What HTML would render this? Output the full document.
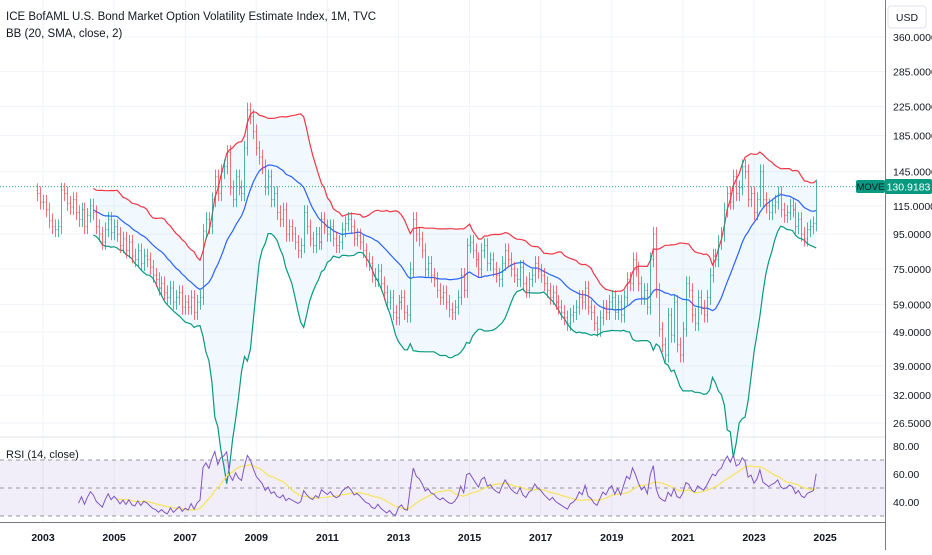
<!DOCTYPE html>
<html><head><meta charset="utf-8">
<style>
body{margin:0;background:#fff;font-family:"Liberation Sans",sans-serif;}
svg text{font-family:"Liberation Sans",sans-serif;}
</style></head>
<body>
<svg id="c" width="932" height="550" viewBox="0 0 932 550">
<rect width="932" height="550" fill="#fff"/>
<g id="grid"></g><g id="bands"></g><g id="bars"></g><g id="rsi"></g><g id="axes"></g>
</svg>
<script>
// Monthly closes, Nov 2002 .. Oct 2024
const startYear = 2002, startMonth = 10;
const closes = [
125,118,
118,112,104,100,98,100,128,125,117,114,120,110,
105,112,100,108,115,110,100,95,90,98,105,96,
100,95,88,92,85,90,82,80,85,78,82,80,
76,72,70,66,68,64,62,66,60,62,64,58,
60,58,62,56,60,62,97,105,100,120,140,125,
145,150,165,130,120,140,130,125,170,220,210,190,
170,160,150,130,140,120,125,110,105,112,95,100,
95,90,85,88,110,100,92,88,95,90,105,100,
95,100,92,88,90,98,102,105,100,92,94,90,
85,80,78,72,70,74,68,64,60,62,56,54,
60,62,56,55,75,105,95,92,85,75,78,72,
70,65,62,64,60,57,56,58,62,72,65,88,
90,85,80,75,85,88,78,80,75,72,70,78,
85,80,75,72,70,76,68,65,70,72,78,74,
72,68,65,62,64,60,58,56,54,52,55,56,
58,62,60,66,58,56,52,50,54,58,56,60,
62,56,60,55,62,70,68,80,75,68,62,65,
58,80,95,65,50,45,42,55,48,60,45,42,
50,68,65,55,52,62,58,55,62,72,82,80,
90,95,112,125,118,140,125,130,150,145,120,125,
110,120,145,120,115,110,115,118,125,112,108,110,
115,112,100,105,95,92,98,100,102,130.9183
];
const priceTicks = [360,285,225,185,145,115,95,75,59,49,39,32,26.5];
const rsiTicks = [80,60,40];
const yearTicks = [2003,2005,2007,2009,2011,2013,2015,2017,2019,2021,2023,2025];

const NS="http://www.w3.org/2000/svg";
function el(tag,attrs,parent){const e=document.createElementNS(NS,tag);for(const k in attrs)e.setAttribute(k,attrs[k]);parent.appendChild(e);return e;}
const xOfYear = y => 43 + (y-2003)*35.55;
const xOfIdx = i => xOfYear(startYear + (startMonth + i)/12);
const yP = v => 37 + (Math.log(360) - Math.log(v))*148;
const yR = v => 488 - (v-50)*1.4;
const PR = 885;

const grid=document.getElementById('grid'), axes=document.getElementById('axes');
priceTicks.forEach(t=>{el('line',{x1:0,x2:PR,y1:yP(t),y2:yP(t),stroke:'#f0f3fa'},grid);});
yearTicks.forEach(t=>{el('line',{x1:xOfYear(t),x2:xOfYear(t),y1:0,y2:522,stroke:'#f0f3fa'},grid);});
const rs=document.getElementById('rsi');
el('line',{x1:0,x2:PR,y1:437,y2:437,stroke:'#e0e3eb'},grid);
el('rect',{x:0,y:yR(70),width:PR,height:yR(30)-yR(70),fill:'rgba(126,87,194,0.1)'},rs);
[70,50,30].forEach(v=>{el('line',{x1:0,x2:PR,y1:yR(v),y2:yR(v),stroke:'#9598a1','stroke-dasharray':'4,4'},rs);});

// Bollinger
const N=closes.length, up=[],mid=[],lo=[];
for(let i=19;i<N;i++){let s=0;for(let j=i-19;j<=i;j++)s+=closes[j];const m=s/20;let v=0;for(let j=i-19;j<=i;j++)v+=(closes[j]-m)**2;const sd=Math.sqrt(v/20);mid.push([i,m]);up.push([i,m+2*sd]);lo.push([i,Math.max(m-2*sd,1)]);}
const bands=document.getElementById('bands');
const pts=a=>a.map(p=>xOfIdx(p[0]).toFixed(1)+','+yP(p[1]).toFixed(1)).join(' ');
const fill=el('polygon',{points:pts(up)+' '+pts(lo.slice().reverse()),fill:'rgba(33,150,243,0.06)'},bands);


const bu=el('polyline',{points:pts(up),fill:'none',stroke:'#f23645','stroke-width':1.2},bands);


const bm=el('polyline',{points:pts(mid),fill:'none',stroke:'#2962ff','stroke-width':1.2},bands);


const bl=el('polyline',{points:pts(lo),fill:'none',stroke:'#089981','stroke-width':1.2},bands);



// OHLC bars
const bars=document.getElementById('bars');
for(let i=0;i<N;i++){
  const c=closes[i], o=i?closes[i-1]:c*1.02;
  const h=Math.max(o,c)*1.05, l=Math.min(o,c)*0.95;
  const col=c>=o?'#089981':'#f23645', x=Math.round(xOfIdx(i))+0.5;
  const g=el('g',{stroke:col,'stroke-width':1,'stroke-opacity':0.7},bars);
  
  
  el('line',{x1:x,x2:x,y1:yP(h),y2:yP(l)},g);
  el('line',{x1:x-1,x2:x,y1:yP(o),y2:yP(o)},g);
  el('line',{x1:x,x2:x+1,y1:yP(c),y2:yP(c)},g);
}
el('line',{x1:0,x2:PR,y1:yP(130.9183),y2:yP(130.9183),stroke:'#089981','stroke-dasharray':'1,2','stroke-width':0.8},bars);

// RSI
const rsi=[];let ag=0,al=0;
for(let i=1;i<N;i++){const d=closes[i]-closes[i-1],g=Math.max(d,0),l=Math.max(-d,0);
  if(i<=14){ag+=g/14;al+=l/14;if(i==14)rsi.push([i,100-100/(1+ag/(al||1e-9))]);}
  else{ag=(ag*13+g)/14;al=(al*13+l)/14;rsi.push([i,100-100/(1+ag/(al||1e-9))]);}}
const rma=[];for(let k=13;k<rsi.length;k++){let s=0;for(let j=k-13;j<=k;j++)s+=rsi[j][1];rma.push([rsi[k][0],s/14]);}
const rp=a=>a.map(p=>xOfIdx(p[0]).toFixed(1)+','+yR(p[1]).toFixed(1)).join(' ');
const rm=el('polyline',{points:rp(rma),fill:'none',stroke:'#f5e663','stroke-width':1.3},rs);


const rl=el('polyline',{points:rp(rsi),fill:'none',stroke:'#7e57c2','stroke-width':1},rs);



// axes
el('line',{x1:PR+0.5,x2:PR+0.5,y1:0,y2:550,stroke:'#787b86'},axes);
el('line',{x1:0,x2:PR,y1:522.5,y2:522.5,stroke:'#787b86'},axes);
priceTicks.forEach(t=>{const e=el('text',{x:893,y:yP(t)+4,'font-size':10.5,fill:'#131722'},axes);e.textContent=t.toFixed(4);
  
  });
rsiTicks.forEach(t=>{const e=el('text',{x:893,y:yR(t)+4,'font-size':10.5,fill:'#131722'},axes);e.textContent=t.toFixed(2);
  
  });
yearTicks.forEach(t=>{const e=el('text',{x:xOfYear(t),y:541,'font-size':10.5,'font-weight':'bold',fill:'#131722','text-anchor':'middle'},axes);e.textContent=t;
  
  });
</script>
<svg style="position:absolute;left:0;top:0" width="932" height="550">
<text x="6" y="20" font-size="11.5" fill="#131722">ICE BofAML U.S. Bond Market Option Volatility Estimate Index, 1M, TVC</text>
<text x="6" y="37" font-size="11.5" fill="#131722">BB (20, SMA, close, 2)</text>
<text x="6" y="458" font-size="11" fill="#131722">RSI (14, close)</text>
<rect x="888" y="6" width="38" height="22" rx="3" fill="#fff" stroke="#e0e3eb"/>
<text x="907" y="21" font-size="10.5" fill="#131722" text-anchor="middle">USD</text>
<rect x="856" y="180" width="29" height="13" rx="2" fill="#089981"/>
<text x="870.5" y="190" font-size="9.5" fill="#131722" text-anchor="middle">MOVE</text>
<rect x="885" y="179" width="47" height="15" rx="2" fill="#089981"/>
<text x="908.5" y="190.5" font-size="10.5" fill="#fff" text-anchor="middle">130.9183</text>
</svg>
</body></html>
